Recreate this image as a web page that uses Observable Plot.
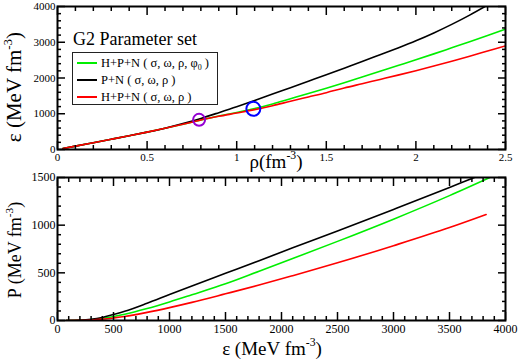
<!DOCTYPE html>
<html><head><meta charset="utf-8">
<script src="https://cdn.jsdelivr.net/npm/d3@7"></script>
<script src="https://cdn.jsdelivr.net/npm/@observablehq/plot@0.6"></script>
<style>
body{margin:0;background:#fff;}
#wrap{position:relative;width:518px;height:363px;overflow:hidden;}
#wrap svg{position:absolute;left:0;}
#wrap svg, #wrap svg text, #wrap svg tspan{font-family:"Liberation Serif","Times New Roman",Times,serif !important;}
</style></head><body><div id="wrap"></div>
<script>
// ---------- Top panel: energy density vs baryon density ----------
const rho      = [0.03,0.1,0.2,0.3,0.4,0.5,0.6,0.7,0.8,0.9,1.0,1.1,1.2,1.3,1.4,1.5,1.6,1.7,1.8,1.9,2.0,2.1,2.2,2.3,2.4,2.5];
const epsGreen = [28,94,190,287,385,486,592,705,825,935,1035,1145,1275,1420,1565,1715,1870,2030,2190,2350,2510,2675,2845,3015,3190,3370];
const epsBlack = [28,94,190,287,385,486,596,725,870,1030,1195,1370,1555,1730,1910,2090,2275,2460,2650,2840,3040,3260,3500,3760,4040,4330];
const epsRed   = [28,94,190,287,385,486,592,705,825,928,1020,1115,1225,1350,1470,1590,1720,1840,1960,2080,2205,2335,2470,2610,2755,2900];
const markRho  = [0.79, 1.093];
const markEps  = [830, 1138];
const markColor = ["#9400d3", "#0000ff"];
const markR    = [6, 7];

// ---------- Bottom panel: pressure vs energy density ----------
const eGreen = [80,200,300,400,500,600,800,1000,1200,1500,1800,2100,2500,3000,3500,3860];
const pGreen = [0,2,8,22,42,65,125,195,270,385,517,650,830,1063,1310,1500];
const eBlack = [80,200,300,400,500,600,800,1000,1200,1500,1800,2100,2500,3000,3500,3700,3850];
const pBlack = [0,3,12,32,63,96,180,272,362,495,628,762,940,1165,1395,1490,1560];
const eRed   = [80,200,300,400,500,600,800,1000,1200,1500,1800,2100,2500,3000,3500,3827];
const pRed   = [0,1,5,14,27,42,85,135,190,280,372,470,605,785,975,1112];

const seriesNames  = ["H+P+N ( σ, ω, ρ, φ0 )", "P+N ( σ, ω, ρ )", "H+P+N ( σ, ω, ρ )"];
const seriesColors = ["#00ee00", "#000000", "#ff0000"];

// tick values
const topXMajor = [0,0.5,1,1.5,2,2.5];
const topXMinor = d3.range(0,26).map(i=>i/10).filter(v=>Math.abs(v*2-Math.round(v*2))>1e-9);
const topYMajor = [0,1000,2000,3000,4000];
const topYMinor = d3.range(0,4001,200).filter(v=>v%1000!==0);
const botXMajor = [0,500,1000,1500,2000,2500,3000,3500,4000];
const botXMinor = d3.range(0,4001,100).filter(v=>v%500!==0);
const botYMajor = [0,500,1000,1500];
const botYMinor = d3.range(0,1501,100).filter(v=>v%500!==0);

const FONT = "'Liberation Serif','Times New Roman',Times,serif";
const fmt = d => String(d);
const blank = () => "";

function axes(xMaj, xMin, yMaj, yMin, fs) {
  const common = {label: null, tickFormat: blank, strokeWidth: 1.5};
  return [
    Plot.axisX(xMaj, {...common, anchor: "bottom", tickSize: -8}),
    Plot.axisX(xMin, {...common, anchor: "bottom", tickSize: -4}),
    Plot.axisX(xMaj, {...common, anchor: "top", tickSize: -8}),
    Plot.axisX(xMin, {...common, anchor: "top", tickSize: -4}),
    Plot.axisY(yMaj, {...common, anchor: "left", tickSize: -8}),
    Plot.axisY(yMin, {...common, anchor: "left", tickSize: -4}),
    Plot.axisY(yMaj, {...common, anchor: "right", tickSize: -8}),
    Plot.axisY(yMin, {...common, anchor: "right", tickSize: -4}),
    Plot.axisX(xMaj, {anchor: "bottom", label: null, tickSize: 0, tickPadding: 4, tickFormat: fmt, fontSize: fs, fontFamily: FONT}),
    Plot.axisY(yMaj, {anchor: "left", label: null, tickSize: 0, tickPadding: 2, tickFormat: fmt, fontSize: fs, fontFamily: FONT})
  ];
}

const topData = [epsGreen, epsBlack, epsRed].map((arr, s) => rho.map((r, i) => ({x: r, y: arr[i], s})));
const markData = markRho.map((r, i) => ({x: r, y: markEps[i], c: markColor[i], r: markR[i]}));
const botData = [[eGreen,pGreen],[eBlack,pBlack],[eRed,pRed]].map(([E,P], s) => E.map((e, i) => ({x: e, y: P[i], s})));

const style = {fontFamily: FONT, fontSize: "12px", color: "#000", background: "transparent", overflow: "visible"};

const topPlot = Plot.plot({
  width: 518, height: 172,
  marginTop: 5, marginBottom: 24, marginLeft: 57, marginRight: 13,
  style,
  x: {domain: [0, 2.5]},
  y: {domain: [0, 4000]},
  r: {type: "identity"},
  marks: [
    ...topData.map((d, s) => Plot.line(d, {x: "x", y: "y", stroke: seriesColors[s], strokeWidth: 1.6, curve: "monotone-x", clip: true})),
    Plot.dot(markData, {x: "x", y: "y", r: "r", stroke: "c", strokeWidth: 2, fill: "none"}),
    ...axes(topXMajor, topXMinor, topYMajor, topYMinor, 11),
    Plot.frame({strokeWidth: 2})
  ]
});
topPlot.style.top = "1px";

const botPlot = Plot.plot({
  width: 518, height: 191,
  marginTop: 5, marginBottom: 43, marginLeft: 57, marginRight: 13,
  style,
  x: {domain: [0, 4000]},
  y: {domain: [0, 1500]},
  marks: [
    ...botData.map((d, s) => Plot.line(d, {x: "x", y: "y", stroke: seriesColors[s], strokeWidth: 1.6, curve: "monotone-x", clip: true})),
    ...axes(botXMajor, botXMinor, botYMajor, botYMinor, 12),
    Plot.frame({strokeWidth: 2})
  ]
});
botPlot.style.top = "172px";

const wrap = document.getElementById("wrap");
wrap.appendChild(topPlot);
wrap.appendChild(botPlot);

// ---------- annotation overlay: axis labels, title, legend ----------
const ov = d3.select(wrap).append("svg")
  .attr("width", 518).attr("height", 363)
  .style("top", "0px").style("pointer-events", "none")
  .attr("font-family", FONT)
  .attr("fill", "#000");

function supLabel(sel, main, sup, after, size) {
  const t = sel.append("text").attr("font-size", size);
  t.append("tspan").text(main);
  t.append("tspan").attr("font-size", size * 0.62).attr("dy", -size * 0.45).text(sup);
  t.append("tspan").attr("dy", size * 0.45).text(after);
  return t;
}

supLabel(ov.append("g").attr("transform", "translate(21,87) rotate(-90)"), "ε (MeV fm", "-3", ")", 21).attr("text-anchor", "middle");
supLabel(ov.append("g").attr("transform", "translate(276,168)"), "ρ(fm", "-3", ")", 19).attr("text-anchor", "middle");
supLabel(ov.append("g").attr("transform", "translate(21,250) rotate(-90)"), "P (MeV fm", "-3", ")", 18).attr("text-anchor", "middle");
supLabel(ov.append("g").attr("transform", "translate(272,355)"), "ε (MeV fm", "-3", ")", 19).attr("text-anchor", "middle");

ov.append("text").attr("x", 73).attr("y", 45).attr("font-size", 18).text("G2 Parameter set");

const lg = ov.append("g");
lg.append("rect").attr("x", 72.5).attr("y", 52.5).attr("width", 145).attr("height", 52)
  .attr("fill", "#fff").attr("stroke", "#222").attr("stroke-width", 1);
seriesNames.forEach((name, i) => {
  const yy = 63 + i * 17;
  lg.append("line").attr("x1", 77).attr("x2", 97).attr("y1", yy).attr("y2", yy)
    .attr("stroke", seriesColors[i]).attr("stroke-width", 2);
  const t = lg.append("text").attr("x", 101).attr("y", yy + 4).attr("font-size", 12.5);
  const m = name.match(/^(.*φ)0( \))$/);
  if (m) {
    t.append("tspan").text(m[1]);
    t.append("tspan").attr("font-size", 8).attr("dy", 3).text("0");
    t.append("tspan").attr("dy", -3).text(m[2]);
  } else t.text(name);
});
</script></body></html>
